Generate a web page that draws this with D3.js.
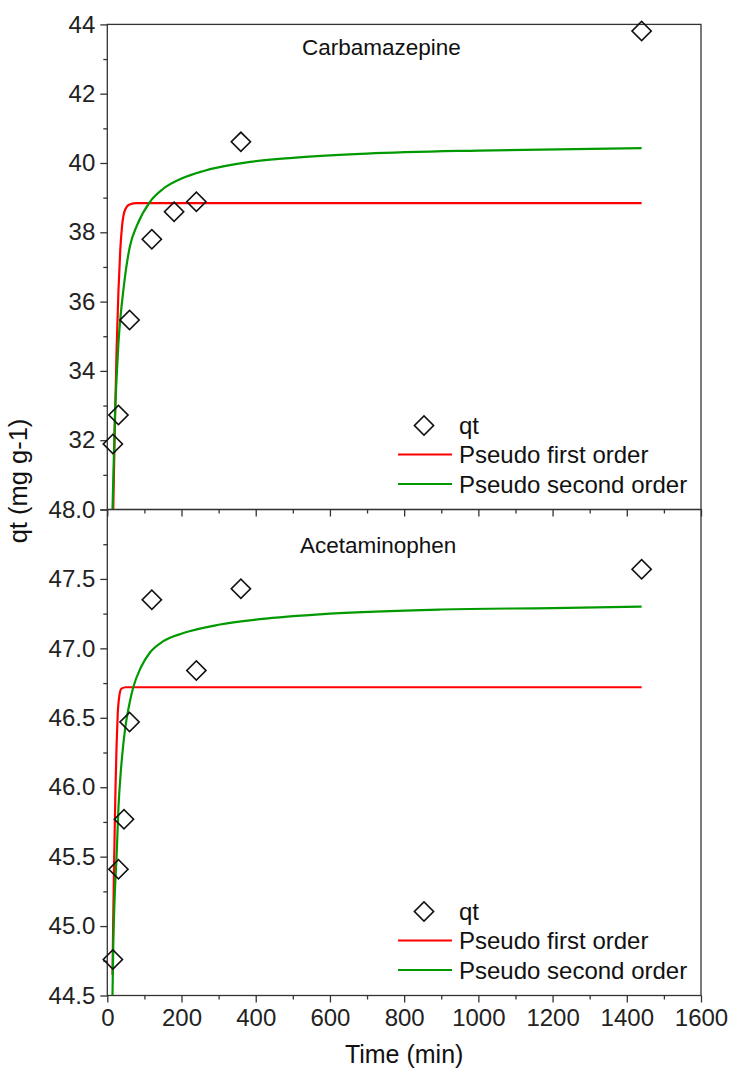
<!DOCTYPE html>
<html>
<head>
<meta charset="utf-8">
<script src="https://cdn.jsdelivr.net/npm/d3@7"></script>
<style>
  html, body { margin: 0; padding: 0; background: #fff; }
  svg { display: block; font-family: "Liberation Sans", Arial, sans-serif; }
  .axis path, .axis line { stroke: #333; stroke-width: 1.3; }
  .axis text { fill: #222; }
</style>
</head>
<body>
<svg id="chart" width="731" height="1070"></svg>
<script>
// Measured adsorption capacity qt (mg g-1) versus contact time (min)
const cbzTime = [15, 30, 60, 120, 180, 240, 360, 1440];
const cbzQt   = [31.89, 32.73, 35.47, 37.80, 38.59, 38.88, 40.61, 43.81];

const acetTime = [15, 30, 45, 60, 120, 240, 360, 1440];
const acetQt   = [44.76, 45.41, 45.77, 46.47, 47.35, 46.84, 47.43, 47.57];

// Fitted kinetic curves, Carbamazepine
const cbzFirstT  = [14, 16, 20, 25, 30, 35, 40, 48, 60, 80, 1440];
const cbzFirstQ  = [29.0, 30.0, 32.2, 34.6, 36.3, 37.5, 38.2, 38.65, 38.8, 38.84, 38.84];
const cbzSecondT = [12, 14, 20, 25, 30, 36, 43, 50, 61, 80, 115, 150, 200, 260, 385, 500, 700, 1000, 1440];
const cbzSecondQ = [29.0, 30.0, 32.5, 33.8, 34.8, 35.6, 36.3, 36.9, 37.6, 38.2, 38.88, 39.25, 39.55, 39.77, 40.03, 40.15, 40.27, 40.36, 40.43];

// Fitted kinetic curves, Acetaminophen
const acetFirstT  = [14, 16, 18, 20, 22, 25, 28, 32, 38, 50, 1440];
const acetFirstQ  = [44.65, 45.05, 45.4, 45.7, 45.98, 46.3, 46.52, 46.65, 46.71, 46.72, 46.72];
const acetSecondT = [14, 16, 20, 25, 30, 36, 42, 48, 58, 70, 90, 115, 150, 205, 300, 411, 600, 900, 1200, 1440];
const acetSecondQ = [44.5, 44.85, 45.22, 45.5, 45.85, 46.1, 46.28, 46.42, 46.58, 46.72, 46.86, 46.97, 47.05, 47.11, 47.17, 47.21, 47.25, 47.28, 47.29, 47.30];

// Axis ticks
const xMajorTicks = [0, 200, 400, 600, 800, 1000, 1200, 1400, 1600];
const xMinorTicks = [100, 300, 500, 700, 900, 1100, 1300, 1500];
const cbzMajorTicks = [30, 32, 34, 36, 38, 40, 42, 44];
const cbzMinorTicks = [31, 33, 35, 37, 39, 41, 43];
const acetMajorTicks = [44.5, 45.0, 45.5, 46.0, 46.5, 47.0, 47.5, 48.0];
const acetMinorTicks = [44.75, 45.25, 45.75, 46.25, 46.75, 47.25, 47.75];

const legendLabels = ["qt", "Pseudo first order", "Pseudo second order"];
const colorFirst = "#ff0000";
const colorSecond = "#009a00";

const svg = d3.select("#chart");
const left = 107.3, right = 701;
const x = d3.scaleLinear().domain([0, 1600]).range([left, right]);

// open diamond marker: a square turned by 45 degrees
const diamond = d3.symbol().type(d3.symbolSquare).size(185);

function zip(ts, qs) { return ts.map((t, i) => ({ t, q: qs[i] })); }

function drawPanel(opt) {
  const y = d3.scaleLinear().domain(opt.domain).range([opt.bottom, opt.top]);
  const g = svg.append("g");
  const clipId = "clip-" + opt.id;
  svg.append("defs").append("clipPath").attr("id", clipId)
    .append("rect").attr("x", left).attr("y", opt.top)
    .attr("width", right - left).attr("height", opt.bottom - opt.top);

  // frame
  g.append("rect").attr("x", left).attr("y", opt.top)
    .attr("width", right - left).attr("height", opt.bottom - opt.top)
    .attr("fill", "none").attr("stroke", "#333").attr("stroke-width", 1.3);

  // y axis: minor then major ticks
  g.append("g").attr("class", "axis").attr("transform", `translate(${left},0)`)
    .call(d3.axisLeft(y).tickValues(opt.minor).tickSize(4).tickFormat(""))
    .call(a => a.select(".domain").remove());
  const ya = g.append("g").attr("class", "axis").attr("transform", `translate(${left},0)`)
    .call(d3.axisLeft(y).tickValues(opt.major).tickSize(7).tickPadding(5)
      .tickFormat(d => opt.hideLabel.includes(d) ? "" : opt.fmt(d)));
  ya.select(".domain").remove();
  ya.selectAll("text").attr("font-size", 24).attr("font-family", "Liberation Sans, Arial, sans-serif");

  // x axis ticks along panel bottom
  g.append("g").attr("class", "axis").attr("transform", `translate(0,${opt.bottom})`)
    .call(d3.axisBottom(x).tickValues(xMinorTicks).tickSize(4).tickFormat(""))
    .call(a => a.select(".domain").remove());
  const xa = g.append("g").attr("class", "axis").attr("transform", `translate(0,${opt.bottom})`)
    .call(d3.axisBottom(x).tickValues(xMajorTicks).tickSize(7).tickPadding(6)
      .tickFormat(opt.xLabels ? d3.format("d") : ""));
  xa.select(".domain").remove();
  xa.selectAll("text").attr("font-size", 24).attr("font-family", "Liberation Sans, Arial, sans-serif");

  // fitted curves
  const line = d3.line().x(d => x(d.t)).y(d => y(d.q)).curve(d3.curveMonotoneX);
  const curves = g.append("g").attr("clip-path", `url(#${clipId})`);
  curves.append("path").datum(zip(opt.firstT, opt.firstQ))
    .attr("d", line).attr("fill", "none").attr("stroke", colorFirst).attr("stroke-width", 2.2);
  curves.append("path").datum(zip(opt.secondT, opt.secondQ))
    .attr("d", line).attr("fill", "none").attr("stroke", colorSecond).attr("stroke-width", 2.2);

  // measured points
  g.append("g").selectAll("path").data(zip(opt.time, opt.qt)).join("path")
    .attr("d", diamond)
    .attr("transform", d => `translate(${x(d.t)},${y(d.q)}) rotate(45)`)
    .attr("fill", "none").attr("stroke", "#111").attr("stroke-width", 1.6);

  // panel title
  g.append("text").attr("x", opt.titleX).attr("y", opt.titleY)
    .attr("font-size", 22.5).attr("fill", "#111").text(opt.title);

  // legend
  const lg = g.append("g");
  const base = opt.bottom;
  lg.append("path").attr("d", diamond)
    .attr("transform", `translate(424,${base - 84}) rotate(45)`)
    .attr("fill", "none").attr("stroke", "#111").attr("stroke-width", 1.6);
  lg.append("line").attr("x1", 398).attr("x2", 452).attr("y1", base - 55).attr("y2", base - 55)
    .attr("stroke", colorFirst).attr("stroke-width", 2.2);
  lg.append("line").attr("x1", 398).attr("x2", 452).attr("y1", base - 25.5).attr("y2", base - 25.5)
    .attr("stroke", colorSecond).attr("stroke-width", 2.2);
  legendLabels.forEach((lab, i) => {
    lg.append("text").attr("x", 459).attr("y", base - 76 + i * 29.5)
      .attr("font-size", 24).attr("fill", "#111").text(lab);
  });
}

drawPanel({
  id: "cbz", top: 24.4, bottom: 509.5, domain: [30, 44],
  major: cbzMajorTicks, minor: cbzMinorTicks, hideLabel: [30], fmt: d3.format("d"),
  xLabels: false, time: cbzTime, qt: cbzQt,
  firstT: cbzFirstT, firstQ: cbzFirstQ, secondT: cbzSecondT, secondQ: cbzSecondQ,
  title: "Carbamazepine", titleX: 302, titleY: 55
});

drawPanel({
  id: "acet", top: 509.5, bottom: 995.5, domain: [44.5, 48],
  major: acetMajorTicks, minor: acetMinorTicks, hideLabel: [], fmt: d3.format(".1f"),
  xLabels: true, time: acetTime, qt: acetQt,
  firstT: acetFirstT, firstQ: acetFirstQ, secondT: acetSecondT, secondQ: acetSecondQ,
  title: "Acetaminophen", titleX: 300, titleY: 553
});

// axis titles
svg.append("text").attr("x", (left + right) / 2).attr("y", 1063)
  .attr("text-anchor", "middle").attr("font-size", 25).attr("fill", "#111").text("Time (min)");
svg.append("text").attr("transform", "translate(27,481) rotate(-90)")
  .attr("text-anchor", "middle").attr("font-size", 25.5).attr("fill", "#111").text("qt (mg g-1)");
</script>
</body>
</html>
